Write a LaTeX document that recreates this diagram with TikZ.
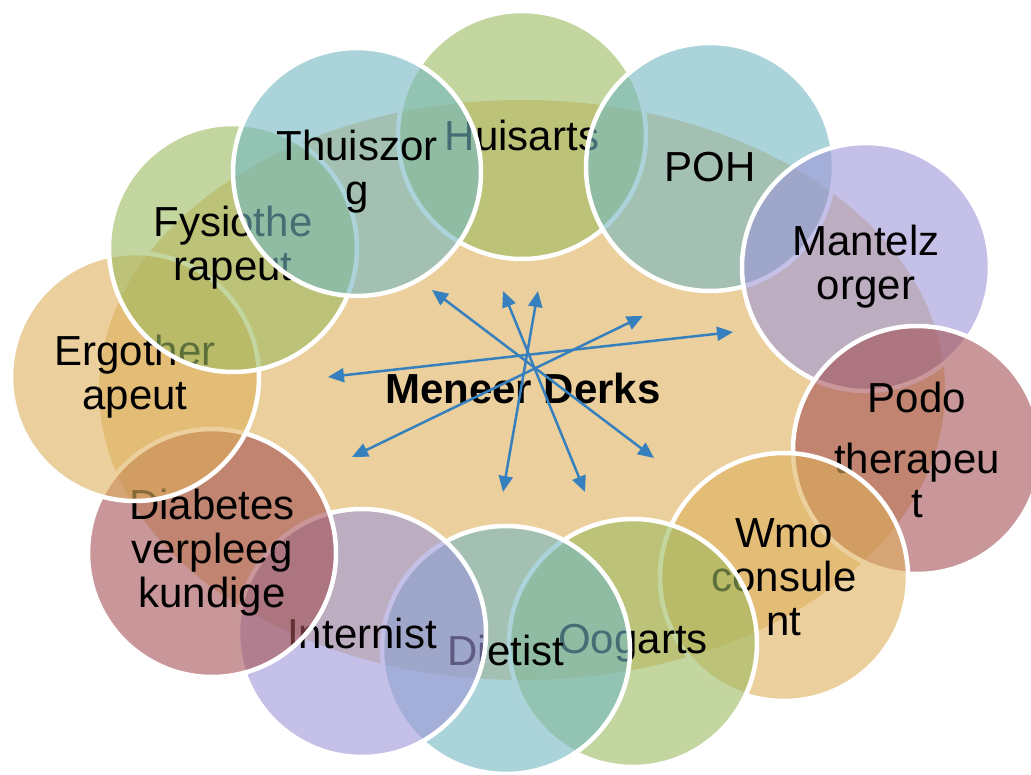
\documentclass[tikz,border=0pt]{standalone}
\usepackage{fontspec}
\setmainfont{Liberation Sans}
\usetikzlibrary{arrows.meta}
\definecolor{groen}{RGB}{157,187,97}
\definecolor{blauwgroen}{RGB}{115,183,193}
\definecolor{paars}{RGB}{157,150,217}
\definecolor{rood}{RGB}{165,82,85}
\definecolor{oranje}{RGB}{222,175,92}
\definecolor{pijlblauw}{RGB}{55,128,190}
\begin{document}
\begin{tikzpicture}[x=1pt,y=-1pt,
    bol/.style={circle,draw=white,line width=4.5pt,fill opacity=0.6,text opacity=1,
        minimum size=248pt,inner sep=0pt,align=center,font=\fontsize{42}{44}\selectfont},
    pijl/.style={pijlblauw,line width=2.5pt,
        {Triangle[length=16pt,width=14pt]}-{Triangle[length=16pt,width=14pt]}}]
                \useasboundingbox (0,0) rectangle (1031,775);
                \fill[oranje,fill opacity=0.6] (522,390) ellipse [x radius=423pt,y radius=290pt];
                \node[bol,fill=groen] (huisarts) at (522,135) {Huisarts};
                \node[bol,fill=blauwgroen] (poh) at (710,167) {POH};
                \node[bol,fill=paars] (mantelzorger) at (866,267) {Mantelz\\orger};
                \node[bol,fill=rood] (podotherapeut) at (917,450) {Podo\\[17pt]therapeu\\t};
                \node[bol,fill=oranje] (wmo) at (784,577) {Wmo\\consule\\nt};
                \node[bol,fill=groen] (oogarts) at (633,643) {Oogarts};
                \node[bol,fill=blauwgroen] (dietist) at (506,650) {Dietist};
                \node[bol,fill=paars] (internist) at (362,633) {Internist};
                \node[bol,fill=rood] (diabetes) at (212,553) {Diabetes\\verpleeg\\kundige};
                \node[bol,fill=oranje] (ergotherapeut) at (135,377) {Ergother\\apeut};
                \node[bol,fill=groen] (fysiotherapeut) at (233,248) {Fysiothe\\rapeut};
                \node[bol,fill=blauwgroen] (thuiszorg) at (357,172) {Thuiszor\\g};
                \node[font=\fontsize{42}{44}\selectfont\bfseries] (derks) at (523,388) {Meneer Derks};
                \coordinate (a1) at (432,290);
                \coordinate (b1) at (654,458);
                \coordinate (a2) at (503,291);
                \coordinate (b2) at (585,492);
                \coordinate (a3) at (538,291);
                \coordinate (b3) at (503,492);
                \coordinate (a4) at (643,316);
                \coordinate (b4) at (352,457);
                \coordinate (a5) at (733,332);
                \coordinate (b5) at (328,377);
                \foreach \i in {1,...,5}
                    \draw[pijl] (a\i) -- (b\i);
            \end{tikzpicture}
\end{document}
